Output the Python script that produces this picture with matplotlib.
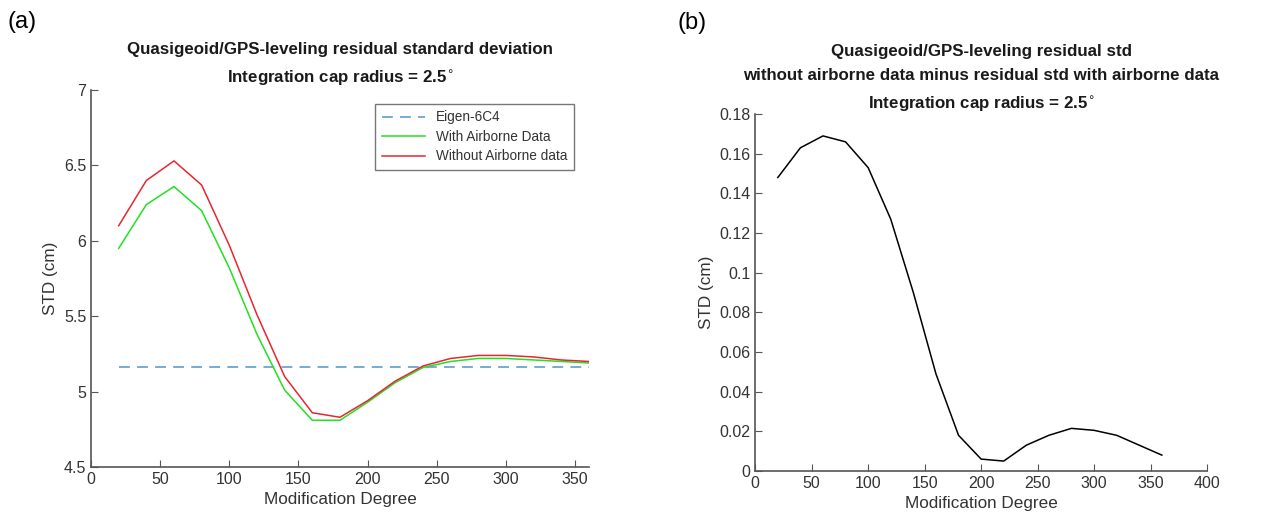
import matplotlib.pyplot as plt
import numpy as np

plt.rcParams['font.family'] = ['Liberation Sans', 'DejaVu Sans']

degree = [20, 40, 60, 80, 100, 120, 140, 160, 180, 200, 220, 240, 260, 280, 300, 320, 340, 360]
eigen_6c4 = 5.16
with_airborne = [5.95, 6.24, 6.36, 6.20, 5.82, 5.38, 5.01, 4.81, 4.81, 4.93, 5.06, 5.16, 5.20, 5.22, 5.22, 5.21, 5.20, 5.19]
without_airborne = [6.10, 6.40, 6.53, 6.37, 5.97, 5.51, 5.10, 4.86, 4.83, 4.94, 5.07, 5.17, 5.22, 5.24, 5.24, 5.23, 5.21, 5.20]
std_diff = [0.148, 0.163, 0.169, 0.166, 0.153, 0.127, 0.090, 0.049, 0.018, 0.006, 0.005, 0.013, 0.018, 0.0215, 0.0205, 0.018, 0.013, 0.008]

axcol = '#555555'
txtcol = '#333333'


def style(ax):
    for s in ['top', 'right']:
        ax.spines[s].set_visible(False)
    for s in ['left', 'bottom']:
        ax.spines[s].set_color(axcol)
        ax.spines[s].set_linewidth(1.2)
    ax.tick_params(direction='in', length=5, color=axcol, labelcolor=txtcol, labelsize=11.5)
    ax.set_xlabel('Modification Degree', fontsize=12.3, color=txtcol)
    ax.set_ylabel('STD (cm)', fontsize=12.3, color=txtcol)


fig = plt.figure(figsize=(12.8, 5.21), dpi=100)

ax1 = fig.add_axes([0.0711, 0.1036, 0.389, 0.7236])
ax1.plot([degree[0], degree[-1]], [eigen_6c4, eigen_6c4], '--', color='#6aa6cf', lw=1.3, dashes=(6, 4), label='Eigen-6C4')
ax1.plot(degree, with_airborne, color='#22e022', lw=1.1, label='With Airborne Data')
ax1.plot(degree, without_airborne, color='#e8262f', lw=1.1, label='Without Airborne data')
ax1.set_xlim(0, 360)
ax1.set_ylim(4.5, 7)
ax1.set_xticks([0, 50, 100, 150, 200, 250, 300, 350])
ax1.set_yticks([4.5, 5, 5.5, 6, 6.5, 7])
ax1.set_yticklabels(['4.5', '5', '5.5', '6', '6.5', '7'])
style(ax1)
ax1.set_title('Quasigeoid/GPS-leveling residual standard deviation\nIntegration cap radius = 2.5$^{\\circ}$',
              fontsize=12.2, fontweight='bold', color='#1a1a1a', pad=5, linespacing=1.75)
leg = ax1.legend(loc='upper right', bbox_to_anchor=(0.983, 0.98), fontsize=9.8, frameon=True,
                 fancybox=False, edgecolor=axcol, handlelength=3.2, borderpad=0.45, labelspacing=0.4)
leg.get_frame().set_linewidth(1.0)
for t in leg.get_texts():
    t.set_color(txtcol)

ax2 = fig.add_axes([0.590, 0.096, 0.353, 0.685])
ax2.plot(degree, std_diff, color='black', lw=1.1)
ax2.set_xlim(0, 400)
ax2.set_ylim(0, 0.18)
ax2.set_xticks([0, 50, 100, 150, 200, 250, 300, 350, 400])
ax2.set_yticks([0, 0.02, 0.04, 0.06, 0.08, 0.1, 0.12, 0.14, 0.16, 0.18])
ax2.set_yticklabels(['0', '0.02', '0.04', '0.06', '0.08', '0.1', '0.12', '0.14', '0.16', '0.18'])
style(ax2)
ax2.set_title('Quasigeoid/GPS-leveling residual std\nwithout airborne data minus residual std with airborne data\n'
              'Integration cap radius = 2.5$^{\\circ}$',
              fontsize=12.2, fontweight='bold', color='#1a1a1a', pad=3, linespacing=1.75)

fig.text(0.006, 0.958, '(a)', fontsize=17, color='black', va='center')
fig.text(0.529, 0.955, '(b)', fontsize=17, color='black', va='center')

fig.savefig('out.png', dpi=100)
